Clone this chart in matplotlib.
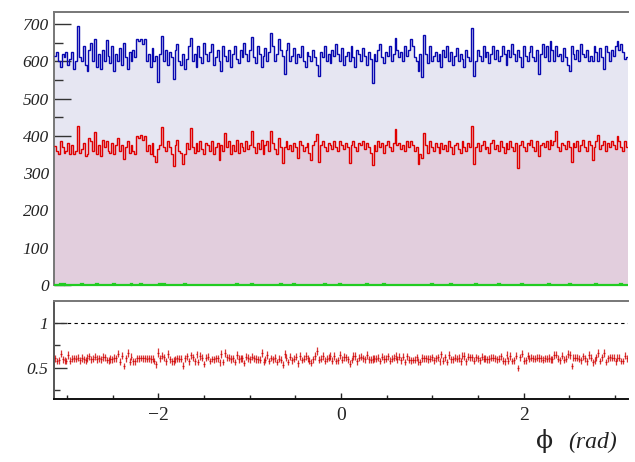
import numpy as np
import matplotlib
matplotlib.use("Agg")
import matplotlib.pyplot as plt

# phi range and binning (300 bins from -pi to pi)
n_bins = 300
phi_min = -np.pi
phi_max = np.pi

# all events (blue)
blue_counts = [
    615, 625, 600, 585, 620, 610, 625, 590, 605, 625, 580, 600, 695, 610, 600, 640, 590, 575, 630, 650,
    600, 660, 585, 620, 580, 630, 600, 658, 615, 595, 640, 575, 620, 600, 635, 590, 650, 610, 580, 625,
    600, 630, 610, 660, 655, 660, 645, 660, 600, 620, 585, 635, 600, 615, 545, 620, 668, 600, 630, 590,
    625, 610, 553, 630, 645, 600, 590, 620, 580, 605, 640, 663, 600, 620, 585, 640, 610, 595, 650, 620,
    600, 625, 645, 590, 610, 630, 600, 575, 640, 615, 600, 630, 585, 620, 640, 605, 595, 630, 610, 650,
    620, 600, 630, 666, 610, 595, 640, 620, 585, 615, 635, 600, 625, 676, 640, 600, 620, 660, 630, 615,
    567, 630, 650, 600, 615, 635, 595, 620, 610, 640, 600, 585, 625, 615, 600, 630, 610, 590, 561, 625,
    610, 640, 600, 620, 595, 630, 615, 645, 620, 600, 635, 590, 615, 625, 600, 640, 610, 585, 630, 620,
    600, 635, 615, 590, 625, 605, 541, 620, 600, 630, 645, 610, 595, 625, 615, 640, 600, 620, 661, 630,
    610, 625, 600, 640, 615, 630, 660, 640, 610, 600, 575, 620, 559, 671, 620, 595, 640, 600, 615, 625,
    600, 620, 585, 630, 610, 640, 600, 625, 590, 615, 635, 600, 620, 605, 585, 630, 610, 600, 690, 561,
    600, 630, 615, 600, 640, 610, 625, 595, 620, 640, 605, 630, 600, 615, 640, 620, 590, 630, 610, 645,
    620, 600, 630, 610, 585, 640, 615, 600, 625, 640, 610, 600, 630, 567, 620, 645, 610, 640, 600, 655,
    630, 600, 640, 615, 620, 600, 635, 610, 590, 575, 640, 620, 605, 630, 600, 645, 620, 610, 630, 600,
    615, 600, 640, 625, 600, 635, 610, 580, 640, 625, 600, 630, 615, 640, 655, 630, 645, 625, 605, 610,
]

# selected events (red)
red_counts = [
    372, 360, 350, 385, 370, 355, 360, 380, 350, 375, 350, 360, 425, 355, 365, 380, 345, 350, 395, 385,
    360, 410, 350, 375, 345, 390, 370, 385, 360, 355, 380, 350, 375, 395, 360, 375, 339, 370, 385, 355,
    375, 360, 350, 400, 395, 402, 390, 400, 360, 375, 350, 380, 345, 330, 365, 375, 423, 370, 360, 385,
    370, 350, 318, 375, 390, 360, 355, 325, 350, 380, 365, 422, 370, 355, 380, 360, 385, 365, 350, 380,
    375, 360, 385, 350, 370, 380, 336, 375, 360, 407, 370, 385, 350, 375, 360, 390, 355, 380, 370, 360,
    385, 365, 375, 414, 370, 355, 380, 365, 390, 350, 375, 385, 360, 412, 380, 365, 350, 395, 370, 328,
    370, 385, 365, 375, 360, 380, 370, 340, 385, 375, 360, 370, 380, 355, 334, 375, 385, 404, 330, 375,
    385, 370, 360, 380, 375, 365, 387, 370, 360, 385, 375, 365, 380, 370, 326, 375, 385, 370, 360, 380,
    375, 385, 365, 380, 370, 355, 323, 375, 360, 385, 370, 380, 355, 375, 385, 370, 360, 380, 417, 375,
    380, 365, 375, 360, 385, 370, 385, 375, 360, 370, 325, 350, 340, 407, 375, 355, 385, 370, 360, 380,
    370, 355, 380, 365, 375, 360, 385, 370, 350, 375, 380, 365, 355, 385, 370, 360, 380, 370, 426, 325,
    370, 380, 360, 375, 385, 365, 370, 355, 380, 390, 365, 375, 360, 385, 370, 355, 380, 365, 385, 370,
    360, 380, 315, 375, 385, 370, 360, 380, 375, 390, 370, 360, 385, 345, 375, 380, 370, 385, 365, 390,
    375, 385, 414, 370, 360, 380, 375, 365, 385, 370, 330, 380, 370, 385, 360, 375, 390, 370, 360, 385,
    375, 335, 370, 385, 401, 365, 375, 385, 360, 380, 370, 385, 375, 365, 400, 385, 370, 360, 385, 370,
]

# background (green), almost empty
green_counts = [
    0, 0, 0, 2, 0, 3, 0, 0, 0, 0, 1, 0, 0, 0, 2, 0, 0, 0, 0, 1,
    0, 0, 2, 0, 0, 0, 0, 1, 0, 0, 0, 2, 0, 0, 0, 0, 0, 0, 1, 0,
    3, 0, 0, 0, 0, 2, 0, 0, 0, 0, 0, 1, 0, 0, 0, 2, 0, 2, 0, 0,
    0, 0, 0, 1, 0, 0, 0, 0, 2, 0, 0, 0, 0, 0, 0, 0, 1, 0, 0, 0,
    0, 0, 0, 0, 0, 0, 1, 0, 0, 0, 0, 0, 0, 0, 0, 2, 0, 0, 0, 0,
    0, 0, 0, 3, 0, 0, 0, 0, 0, 1, 0, 0, 0, 0, 0, 0, 0, 1, 3, 0,
    0, 0, 0, 0, 0, 2, 0, 0, 0, 0, 0, 1, 0, 0, 0, 0, 1, 0, 0, 0,
    0, 2, 0, 0, 0, 0, 0, 0, 0, 2, 0, 0, 0, 0, 0, 0, 0, 1, 0, 0,
    0, 0, 0, 2, 0, 0, 0, 1, 0, 0, 0, 0, 2, 0, 0, 0, 0, 0, 0, 0,
    0, 1, 0, 0, 0, 0, 0, 0, 0, 0, 0, 0, 0, 0, 0, 0, 0, 2, 0, 0,
    0, 0, 1, 0, 0, 0, 0, 2, 0, 0, 0, 0, 0, 0, 1, 0, 0, 0, 0, 0,
    2, 0, 0, 0, 0, 0, 1, 0, 0, 0, 0, 0, 3, 0, 0, 0, 0, 1, 0, 0,
    0, 0, 0, 0, 2, 0, 0, 0, 0, 0, 0, 1, 0, 0, 0, 0, 0, 0, 2, 0,
    0, 1, 0, 0, 0, 0, 0, 0, 0, 2, 0, 0, 0, 0, 0, 1, 0, 0, 0, 0,
    0, 0, 0, 2, 0, 0, 0, 0, 1, 0, 0, 0, 0, 0, 0, 0, 2, 0, 0, 0,
]

blue = np.array(blue_counts, dtype=float)
red = np.array(red_counts, dtype=float)
green = np.array(green_counts, dtype=float)
edges = np.linspace(phi_min, phi_max, n_bins + 1)
centers = 0.5 * (edges[1:] + edges[:-1])
half_width = 0.5 * (edges[1] - edges[0])

# ratio with poisson errors from both histograms
ratio = red / blue
ratio_err = ratio * np.sqrt(1 / red + 1 / blue)

serif = ["Liberation Serif", "DejaVu Serif"]
W, H = 635, 462

fig = plt.figure(figsize=(6.35, 4.62), dpi=100)
ax_top = fig.add_axes([54 / W, 1 - 285 / H, 574 / W, 273 / H])
ax_bot = fig.add_axes([54 / W, 1 - 399 / H, 574 / W, 98 / H])

# top panel: histograms
ax_top.stairs(blue, edges, fill=True, color="#e6e6f2", zorder=1)
ax_top.stairs(red, edges, fill=True, color="#e2cedd", zorder=2)
ax_top.stairs(blue, edges, baseline=None, color="#0808b0", lw=1.0, zorder=3)
ax_top.stairs(red, edges, baseline=None, color="#e00000", lw=1.0, zorder=3)
ax_top.stairs(green, edges, baseline=None, color="#22cc22", lw=1.6, zorder=4, clip_on=False)

ax_top.set_xlim(phi_min, phi_max)
ax_top.set_ylim(0, 732)
ax_top.set_yticks(np.arange(0, 701, 100))
ax_top.set_yticks(np.arange(50, 701, 100), minor=True)
ax_top.set_xticks([-2, 0, 2])
ax_top.set_xticks(np.arange(-3, 3.1, 0.5), minor=True)
ax_top.tick_params(axis="y", which="major", direction="in", length=12.2, width=1.0,
                   color="#333333", pad=3.6, labelsize=12.5)
ax_top.tick_params(axis="y", which="minor", direction="in", length=6.5, width=1.0, color="#333333")
ax_top.tick_params(axis="x", which="major", direction="in", length=6, width=1.0,
                   color="#444444", labelbottom=False)
ax_top.tick_params(axis="x", which="minor", direction="in", length=3.2, width=1.0, color="#666666")
for lab in ax_top.get_yticklabels():
    lab.set_family(serif)
    lab.set_style("italic")
    lab.set_color("#222222")

ax_top.spines["right"].set_visible(False)
ax_top.spines["bottom"].set_visible(False)
ax_top.spines["top"].set_color("#777777")
ax_top.spines["top"].set_linewidth(1.4)
ax_top.spines["left"].set_color("#777777")
ax_top.spines["left"].set_linewidth(1.4)

# bottom panel: ratio
ax_bot.axhline(1.0, color="black", lw=0.8, ls=(0, (3, 3)), zorder=1)
ax_bot.errorbar(centers, ratio, yerr=ratio_err, xerr=half_width, fmt="none",
                ecolor="#d00000", elinewidth=0.9, alpha=0.8, zorder=2)

ax_bot.set_xlim(phi_min, phi_max)
ax_bot.set_ylim(0.15, 1.246)
ax_bot.set_yticks([0.5, 1.0])
ax_bot.set_yticklabels(["0.5", "1"])
ax_bot.set_yticks([0.25, 0.75], minor=True)
ax_bot.set_xticks([-2, 0, 2])
ax_bot.set_xticklabels(["\u22122", "0", "2"])
ax_bot.set_xticks(np.arange(-3, 3.1, 0.5), minor=True)
ax_bot.tick_params(axis="y", which="major", direction="in", length=9.4, width=1.0,
                   color="#333333", pad=4.3, labelsize=12.5)
ax_bot.tick_params(axis="y", which="minor", direction="in", length=4.3, width=1.0, color="#333333")
ax_bot.tick_params(axis="x", which="major", direction="in", length=4.5, width=1.0,
                   color="#222222", pad=6, labelsize=14)
ax_bot.tick_params(axis="x", which="minor", direction="in", length=3.0, width=1.0, color="#222222")
for lab in ax_bot.get_yticklabels():
    lab.set_family(serif)
    lab.set_style("italic")
    lab.set_color("#222222")
for lab in ax_bot.get_xticklabels():
    lab.set_family(serif)
    lab.set_color("#222222")

ax_bot.spines["right"].set_visible(False)
ax_bot.spines["top"].set_color("#777777")
ax_bot.spines["top"].set_linewidth(1.4)
ax_bot.spines["left"].set_color("#555555")
ax_bot.spines["left"].set_linewidth(1.4)
ax_bot.spines["bottom"].set_color("#111111")
ax_bot.spines["bottom"].set_linewidth(1.4)

# axis title, phi upright and unit in italics
fig.text(553 / W, 1 - 448 / H, "\u03d5", family=["DejaVu Serif"], fontsize=18,
         ha="right", va="baseline", color="#222222")
fig.text(617 / W, 1 - 448 / H, "(rad)", family=serif, style="italic", fontsize=17,
         ha="right", va="baseline", color="#222222")

fig.savefig("out.png", dpi=100)
plt.close(fig)
